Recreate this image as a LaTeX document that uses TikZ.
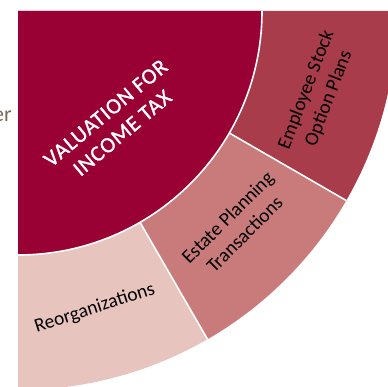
\documentclass[tikz,border=0pt]{standalone}
\usepackage{fontspec}
\setmainfont{Carlito}
\usetikzlibrary{calc}
\definecolor{darkseg}{RGB}{153,0,51}
\definecolor{esopseg}{RGB}{168,60,75}
\definecolor{estateseg}{RGB}{201,122,122}
\definecolor{reorgseg}{RGB}{232,196,191}
\definecolor{sidetext}{RGB}{120,104,94}
\tikzset{
  seplinE/.style={white, line width=1.6pt},
  segtext/.style={inner sep=0pt, align=center, text=black, font=\fontsize{19.5}{24}\selectfont},
  maintext/.style={inner sep=0pt, align=center, text=white, font=\fontsize{22}{26}\selectfont}
}
\begin{document}
\begin{tikzpicture}[x=1pt,y=1pt]
\useasboundingbox (0,0) rectangle (387,-387);
\coordinate (C) at (18,-11);
\def\rin{244}
\def\rout{379}
% outer ring segments
\fill[reorgseg] (C) -- ++(-90:\rout) arc[start angle=-90,end angle=-60,radius=\rout] -- cycle;
\fill[estateseg] (C) -- ++(-60:\rout) arc[start angle=-60,end angle=-30,radius=\rout] -- cycle;
\fill[esopseg] (C) -- ++(-30:\rout) arc[start angle=-30,end angle=0,radius=\rout] -- cycle;
% separators
\draw[seplinE] ($(C)+(-60:\rin)$) -- ($(C)+(-60:\rout)$);
\draw[seplinE] ($(C)+(-30:\rin)$) -- ($(C)+(-30:\rout)$);
% inner quarter disc
\fill[darkseg] (C) -- ++(0:\rin) arc[start angle=0,end angle=-90,radius=\rin] -- cycle;
\draw[seplinE] ($(C)+(0:\rin)$) arc[start angle=0,end angle=-90,radius=\rin];
% texts
\node[maintext, rotate=40] (val) at (114,-123) {\addfontfeature{LetterSpace=4,FakeBold=1.2}VALUATION FOR\\\addfontfeature{LetterSpace=4,FakeBold=1.2}INCOME TAX};
\node[segtext, rotate=18] (reorg) at ($(C)+(-75.5:307)$) {Reorganizations};
\node[segtext, rotate=45] (estate) at ($(C)+(-44.6:306)$) {Estate Planning\\Transactions};
\node[segtext, rotate=69] (esop) at ($(C)+(-15.5:311)$) {Employee Stock\\Option Plans};
\node[anchor=base east, inner sep=0pt, text=sidetext, font=\fontsize{22}{26}\selectfont] (side) at (12,-122) {er};
\end{tikzpicture}
\end{document}
